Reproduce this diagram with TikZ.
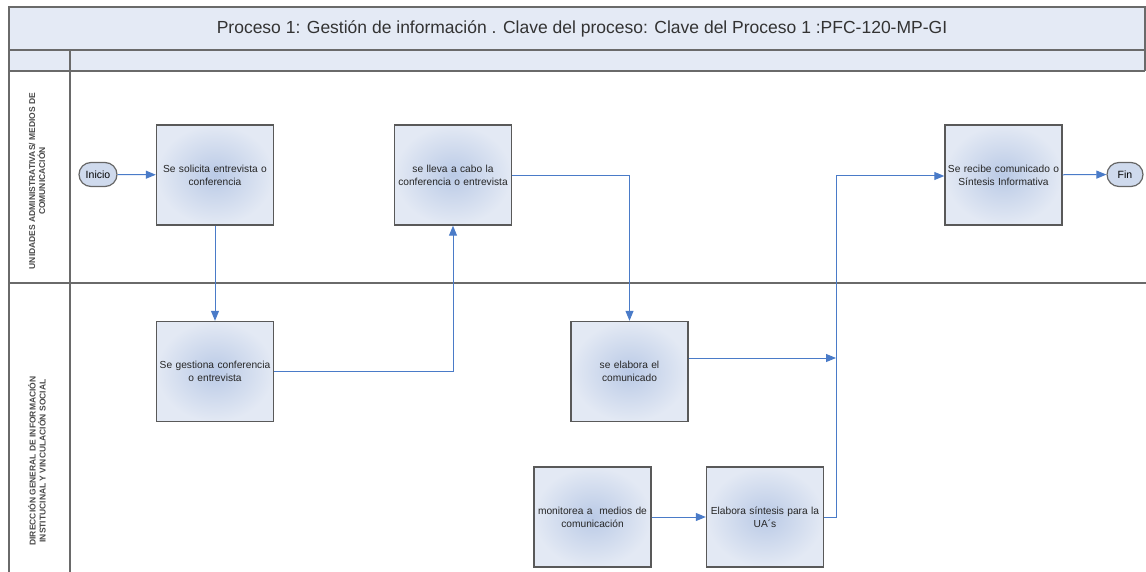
\documentclass[tikz,border=0pt]{standalone}
\usepackage{fontspec}
\setmainfont{Liberation Sans}
\usetikzlibrary{arrows.meta,shapes.misc}
\definecolor{band}{HTML}{E4EAF5}
\definecolor{frame}{HTML}{6A6A6A}
\definecolor{flow}{HTML}{4A7BC8}
\definecolor{boxin}{HTML}{BACAE6}
\definecolor{boxout}{HTML}{E3E9F4}
\definecolor{lanetext}{HTML}{4A4A4A}
\tikzset{
  framel/.style={draw=frame,line width=1.1pt},
  taskbox/.style={draw=black!65,line width=1.4pt,inner color=boxin,outer color=boxout,
    minimum width=117pt,minimum height=100pt,align=center,text width=117pt,
    font=\fontsize{10.2}{13}\selectfont,text=black!85,inner sep=0pt},
  terminal/.style={draw=black!60,line width=1.2pt,rounded rectangle,fill=boxin!70,
    minimum width=42pt,minimum height=24pt,font=\fontsize{10.5}{12}\selectfont,inner sep=2pt},
  flowline/.style={draw=flow,line width=1pt},
  flowarrow/.style={flowline,-{Triangle[length=10pt,width=8pt]}},
  lanelabel/.style={rotate=90,align=center,font=\fontsize{8.5}{10}\selectfont\bfseries,text=lanetext}
}
\begin{document}
\begin{tikzpicture}[x=1pt,y=-1pt]
\useasboundingbox (0,0) rectangle (1146,572);
% bands
\fill[band] (9,7) rectangle (1145,71);
\draw[framel] (9,572) -- (9,7) -- (1145,7) -- (1145,71);
\draw[framel] (9,50) -- (1145,50);
\draw[framel] (9,71) -- (1145,71);
\draw[framel] (70,50) -- (70,572);
\draw[framel] (9,283) -- (1146,283);
\node[font=\fontsize{17.5}{20}\selectfont,text=black!80] (title) at (582,28.5) {Proceso 1: Gestión de información . Clave del proceso: Clave del Proceso 1 :PFC-120-MP-GI};
% lane labels
\node[lanelabel] (lane1) at (37,181) {UNIDADES ADMINISTRATIVAS/ MEDIOS DE\\COMUNICACIÓN};
\node[lanelabel] (lane2) at (37,461) {DIRECCIÓN GENERAL DE INFORMACIÓN\\INSTITUCINAL Y VINCULACIÓN SOCIAL};
% nodes
\node[terminal] (inicio) at (98,174.5) {Inicio};
\node[taskbox] (b1) at (215,175) {Se solicita entrevista o\\conferencia};
\node[taskbox] (b2) at (453,175) {se lleva a cabo la\\conferencia o entrevista};
\node[taskbox] (b3) at (1003.5,175) {Se recibe comunicado o\\Síntesis Informativa};
\node[terminal,minimum width=40pt] (fin) at (1125,174.5) {Fin};
\node[taskbox] (b4) at (215,371.5) {Se gestiona conferencia\\o entrevista};
\node[taskbox] (b5) at (629.5,371.5) {se elabora el\\comunicado};
\node[taskbox] (b6) at (592.5,517) {monitorea a\ \ medios de\\comunicación};
\node[taskbox] (b7) at (765,517) {Elabora síntesis para la\\UA´s};
\coordinate (j) at (836,358);
% connectors
\draw[flowarrow] (inicio) -- (b1);
\draw[flowarrow] (b1) -- (b4);
\draw[flowarrow] (b4.east) -| (b2.south);
\draw[flowarrow] (b2.east |- 0,176) -| (b5.north);
\draw[flowarrow] (b5.east |- j) -- (j);
\draw[flowarrow] (b7.east) -| (836,176) -- (b3.west |- 0,176);
\draw[flowarrow] (b3) -- (fin);
\draw[flowarrow] (b6) -- (b7);
\end{tikzpicture}
\end{document}
